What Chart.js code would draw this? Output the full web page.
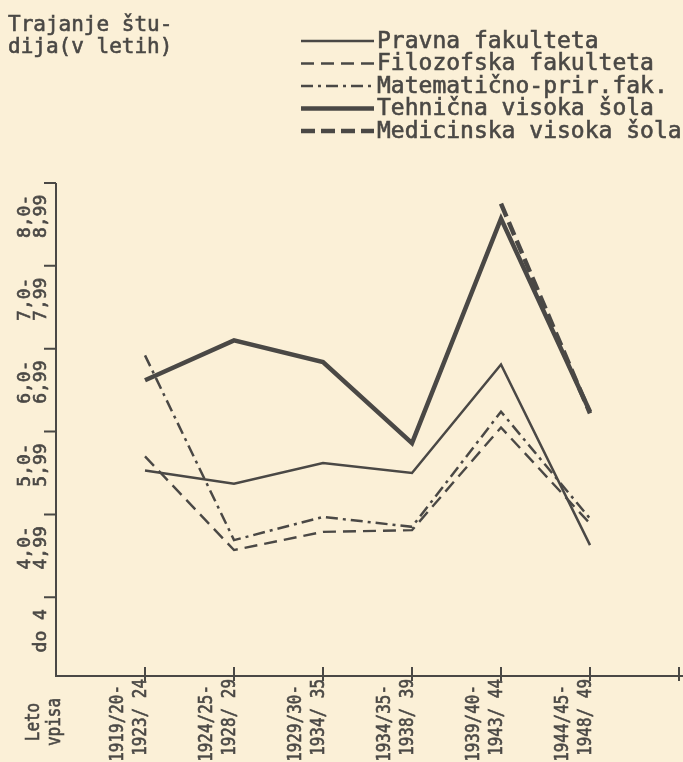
<!DOCTYPE html>
<html lang="sl">
<head>
    <meta charset="UTF-8">
    <title>Trajanje študija</title>
    <script src="https://cdn.jsdelivr.net/npm/chart.js"></script>
    <style>
        html, body { margin: 0; padding: 0; background: #fbf0d7; }
        #wrap { width: 683px; height: 762px; }
    </style>
</head>
<body>
    <div id="wrap"><canvas id="chart" width="683" height="762"></canvas></div>

    <script>
        // Leto vpisa (two lines per label)
        const periodsTop = ['1919/20-', '1924/25-', '1929/30-', '1934/35-', '1939/40-', '1944/45-'];
        const periodsBottom = ['1923/ 24', '1928/ 29', '1934/ 35', '1938/ 39', '1943/ 44', '1948/ 49'];

        // Trajanje studija - bands on the y axis
        const bandLow = [3, 4, 5, 6, 7, 8];
        const bandTop = ['', '4,0-', '5,0-', '6,0-', '7,0-', '8,0-'];
        const bandBottom = ['do 4', '4,99', '5,99', '6,99', '7,99', '8,99'];

        // Series (years of study)
        const pravna = [5.53, 5.37, 5.62, 5.50, 6.81, 4.63];
        const filozofska = [5.70, 4.57, 4.79, 4.81, 6.05, 4.89];
        const matematicna = [6.92, 4.69, 4.97, 4.85, 6.24, 4.95];
        const tehnicna = [6.62, 7.10, 6.84, 5.86, 8.57, 6.24];
        const medicinska = [null, null, null, null, 8.75, 6.22];

        const ink = '#4a4845';
        const paper = '#fbf0d7';
        const mono = '"DejaVu Sans Mono", "Liberation Mono", monospace';

        const toPoints = arr => arr.map((v, i) => ({ x: i + 1, y: v }));

        // typewriter text is a bit heavier than the plain font
        function typeText(ctx, txt, x, y) {
            ctx.fillText(txt, x, y);
            ctx.strokeText(txt, x, y);
        }

        const paperPlugin = {
            id: 'paper',
            beforeDraw(chart) {
                const ctx = chart.ctx;
                ctx.save();
                ctx.fillStyle = paper;
                ctx.fillRect(0, 0, chart.width, chart.height);
                ctx.restore();
            }
        };

        // axes drawn by hand, like the original chart
        const axesPlugin = {
            id: 'handAxes',
            beforeDatasetsDraw(chart) {
                const { ctx, scales: { x, y } } = chart;
                const x0 = x.getPixelForValue(0);
                const y0 = y.getPixelForValue(y.min);
                ctx.save();
                ctx.strokeStyle = ink;
                ctx.lineWidth = 2;
                ctx.beginPath();
                ctx.moveTo(x0, y.getPixelForValue(9));
                ctx.lineTo(x0, y0);
                ctx.lineTo(x.getPixelForValue(7) + 4, y0);
                for (let v = 4; v <= 9; v++) {
                    const py = y.getPixelForValue(v);
                    ctx.moveTo(x0 - 12, py);
                    ctx.lineTo(x0, py);
                }
                for (let i = 1; i <= 7; i++) {
                    const px = x.getPixelForValue(i);
                    ctx.moveTo(px, y0 - 9);
                    ctx.lineTo(px, y0 + 5);
                }
                ctx.stroke();
                ctx.restore();
            },
            afterDraw(chart) {
                const { ctx, scales: { x, y } } = chart;
                const y0 = y.getPixelForValue(y.min);
                ctx.save();
                ctx.fillStyle = ink;
                ctx.strokeStyle = ink;
                ctx.lineWidth = 0.6;

                // title
                ctx.font = '21px ' + mono;
                ctx.textAlign = 'left';
                ctx.textBaseline = 'alphabetic';
                typeText(ctx, 'Trajanje štu-', 8, 31);
                typeText(ctx, 'dija(v letih)', 8, 53);

                // y band labels, rotated
                ctx.font = '18px ' + mono;
                ctx.textAlign = 'center';
                ctx.textBaseline = 'middle';
                bandLow.forEach((low, i) => {
                    const py = y.getPixelForValue(low + 0.5) - 8;
                    [[bandTop[i], 25], [bandBottom[i], 41]].forEach(([txt, cx]) => {
                        if (!txt) return;
                        ctx.save();
                        ctx.translate(cx, py);
                        ctx.rotate(-Math.PI / 2);
                        typeText(ctx, txt, 0, 0);
                        ctx.restore();
                    });
                });

                // x labels, rotated, ending at the axis
                ctx.font = '19px ' + mono;
                ctx.textAlign = 'right';
                periodsTop.forEach((top, i) => {
                    const px = x.getPixelForValue(i + 1);
                    [[top, px - 27, y0 + 9], [periodsBottom[i], px - 4, y0 + 3]].forEach(([txt, cx, cy]) => {
                        ctx.save();
                        ctx.translate(cx, cy);
                        ctx.rotate(-Math.PI / 2);
                        ctx.scale(0.84, 1);
                        typeText(ctx, txt, 0, 0);
                        ctx.restore();
                    });
                });

                // "Leto vpisa"
                ctx.textAlign = 'center';
                [['Leto', 34], ['vpisa', 55]].forEach(([txt, cx]) => {
                    ctx.save();
                    ctx.translate(cx, 722);
                    ctx.rotate(-Math.PI / 2);
                    ctx.scale(0.84, 1);
                    typeText(ctx, txt, 0, 0);
                    ctx.restore();
                });

                // legend, top right
                ctx.font = '23px ' + mono;
                ctx.textAlign = 'left';
                chart.data.datasets.forEach((ds, i) => {
                    const ly = 41 + i * 22.5;
                    ctx.save();
                    ctx.lineWidth = ds.borderWidth;
                    ctx.setLineDash(ds.borderDash || []);
                    ctx.beginPath();
                    ctx.moveTo(301, ly);
                    ctx.lineTo(374, ly);
                    ctx.stroke();
                    ctx.restore();
                    typeText(ctx, ds.label, 377, ly + 1);
                });
                ctx.restore();
            }
        };

        const lineStyle = (label, data, width, dash) => ({
            label: label,
            data: toPoints(data),
            borderColor: ink,
            borderWidth: width,
            borderDash: dash,
            borderJoinStyle: 'miter',
            borderCapStyle: 'butt',
            pointRadius: 0,
            fill: false,
            tension: 0,
            spanGaps: false
        });

        const chart = new Chart(document.getElementById('chart').getContext('2d'), {
            type: 'line',
            data: {
                datasets: [
                    lineStyle('Pravna fakulteta', pravna, 2.5, []),
                    lineStyle('Filozofska fakulteta', filozofska, 2.4, [13, 7]),
                    lineStyle('Matematično-prir.fak.', matematicna, 2.5, [12, 5, 3, 5]),
                    lineStyle('Tehnična visoka šola', tehnicna, 4.5, []),
                    lineStyle('Medicinska visoka šola', medicinska, 4.5, [14, 6])
                ]
            },
            options: {
                responsive: false,
                devicePixelRatio: 1,
                animation: false,
                layout: { padding: { left: 56, top: 183, right: 4, bottom: 86 } },
                scales: {
                    x: { type: 'linear', min: 0, max: 7, display: false },
                    y: { type: 'linear', min: 3.05, max: 9, display: false }
                },
                plugins: {
                    legend: { display: false },
                    tooltip: { enabled: false }
                }
            },
            plugins: [paperPlugin, axesPlugin]
        });
    </script>
</body>
</html>
